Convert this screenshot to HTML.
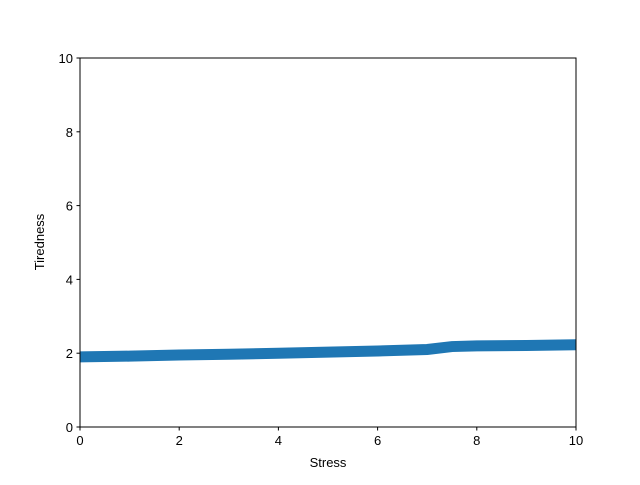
<!DOCTYPE html>
<html><head><meta charset="utf-8"><style>
body{margin:0;background:#fff}
svg text{font-family:"Liberation Sans","DejaVu Sans",sans-serif;font-size:13px;fill:#000}
</style></head><body>
<svg id="c" width="640" height="480">
<rect width="640" height="480" fill="#fff"/>
<g id="plot"></g>
<rect x="80" y="58" width="496" height="369" fill="none" stroke="#000" stroke-width="1"/>
<text x="328" y="467" text-anchor="middle">Stress</text>
<text transform="translate(44,242) rotate(-90)" text-anchor="middle">Tiredness</text>
</svg>
<script>
const xValues=[0,1,2,3,4,5,6,7,7.5,8,9,10];
const yValues=[1.9,1.92,1.95,1.97,2.0,2.03,2.06,2.1,2.18,2.2,2.21,2.23];
const xTicks=[0,2,4,6,8,10];
const yTicks=[0,2,4,6,8,10];
const L=80,R=576,T=58,B=427;
const sx=v=>L+(v-0)/10*(R-L);
const sy=v=>B-(v-0)/10*(B-T);
const NS="http://www.w3.org/2000/svg";
const svg=document.getElementById('c');
const g=document.getElementById('plot');
const line=document.createElementNS(NS,'polyline');
line.setAttribute('points',xValues.map((x,i)=>sx(x)+','+sy(yValues[i])).join(' '));
line.setAttribute('fill','none');line.setAttribute('stroke','#1f77b4');line.setAttribute('stroke-width','11');


g.appendChild(line);
xTicks.forEach(t=>{
 const l=document.createElementNS(NS,'line');
 l.setAttribute('x1',sx(t));l.setAttribute('x2',sx(t));l.setAttribute('y1',B);l.setAttribute('y2',B+3.5);l.setAttribute('stroke','#000');
 
 
 svg.appendChild(l);
 const tx=document.createElementNS(NS,'text');
 tx.setAttribute('x',sx(t));tx.setAttribute('y',B+18);tx.setAttribute('text-anchor','middle');tx.textContent=t;
 
 
 svg.appendChild(tx);
});
yTicks.forEach(t=>{
 const l=document.createElementNS(NS,'line');
 l.setAttribute('x1',L-3.5);l.setAttribute('x2',L);l.setAttribute('y1',sy(t));l.setAttribute('y2',sy(t));l.setAttribute('stroke','#000');
 
 
 svg.appendChild(l);
 const tx=document.createElementNS(NS,'text');
 tx.setAttribute('x',L-7);tx.setAttribute('y',sy(t)+5);tx.setAttribute('text-anchor','end');tx.textContent=t;
 
 
 svg.appendChild(tx);
});
</script>
</body></html>
